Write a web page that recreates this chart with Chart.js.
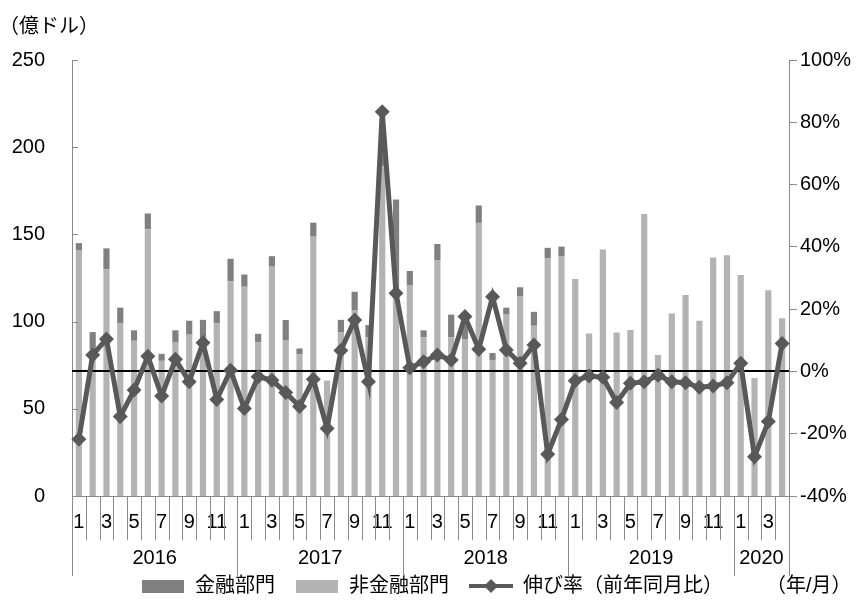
<!DOCTYPE html>
<html lang="ja">
<head>
<meta charset="utf-8">
<script src="https://cdn.jsdelivr.net/npm/chart.js@4.4.1/dist/chart.umd.min.js"></script>
<style>
    html, body { margin: 0; padding: 0; background: #fff; }
    #wrap { width: 864px; height: 606px; }
</style>
</head>
<body>
<div id="wrap"><canvas id="chart" width="864" height="606"></canvas></div>
<script>
/* ========================================
   対外直接投資（金融・非金融）と伸び率
   ======================================== */

const monthLabels = [
    1, 2, 3, 4, 5, 6, 7, 8, 9, 10, 11, 12,
    1, 2, 3, 4, 5, 6, 7, 8, 9, 10, 11, 12,
    1, 2, 3, 4, 5, 6, 7, 8, 9, 10, 11, 12,
    1, 2, 3, 4, 5, 6, 7, 8, 9, 10, 11, 12,
    1, 2, 3, 4
];
const yearLabels = ['2016', '2017', '2018', '2019', '2020'];
const yearMonthCounts = [12, 12, 12, 12, 4];

// 億ドル
const nonFinancial = [
    141, 84, 130, 99, 89, 153, 77.5, 88, 92.5, 90, 99, 123,
    120, 88, 131.5, 89.4, 81.3, 148.7, 65.6, 94, 106.6, 91, 189, 115,
    121, 91, 135, 91, 90, 156.6, 78, 104, 114.7, 97.6, 136.3, 137.6,
    124.4, 93.2, 141.4, 93.8, 95.2, 161.7, 80.8, 104.7, 115.2, 100.5, 136.7, 138,
    126.7, 67.6, 118, 101.9
];
const financial = [
    4, 10, 12, 9, 6, 9, 4, 7, 8, 11, 7, 13,
    7, 5, 6, 11.5, 3.3, 8, 0.5, 7, 10.5, 7, 12, 55,
    8, 4, 9.5, 13, 12, 10, 4, 4, 5, 8, 6, 5.4,
    0, 0, 0, 0, 0, 0, 0, 0, 0, 0, 0, 0,
    0, 0, 0, 0
];
// %
const growthRate = [
    -21.8, 5.3, 10.4, -14.5, -6, 4.9, -7.9, 3.9, -3.3, 9.2, -9, 0.4,
    -11.9, -1.7, -2.8, -6.8, -11.3, -2.5, -18.3, 6.7, 16.5, -3.3, 83.4, 25.1,
    1.2, 3.1, 5.3, 3.7, 17.6, 7.1, 24, 6.9, 2.6, 8.5, -26.6, -15.4,
    -3, -1.5, -1.9, -10, -3.8, -3.3, -1.2, -3.3, -3.6, -5.1, -4.7, -3.6,
    2.6, -27.4, -16.1, 9
];

const DARK = '#808080';
const LIGHT = '#b3b3b3';
const LINE = '#595959';
const AXIS = '#898989';
const FONT = "'Liberation Sans', 'Noto Sans CJK JP', sans-serif";

// legend icons
function boxIcon(color) {
    const c = document.createElement('canvas');
    c.width = 42; c.height = 13;
    const g = c.getContext('2d');
    g.fillStyle = color;
    g.fillRect(0, 0, 42, 13);
    return c;
}
function lineIcon() {
    const c = document.createElement('canvas');
    c.width = 44; c.height = 16;
    const g = c.getContext('2d');
    g.strokeStyle = LINE; g.lineWidth = 4;
    g.beginPath(); g.moveTo(0, 8); g.lineTo(44, 8); g.stroke();
    g.fillStyle = LINE;
    g.beginPath(); g.moveTo(22, 1); g.lineTo(29, 8); g.lineTo(22, 15); g.lineTo(15, 8); g.closePath(); g.fill();
    return c;
}
const legendIcons = [boxIcon(LIGHT), boxIcon(DARK), lineIcon()];
const legendRank = [1, 0, 2];

const decor = {
    id: 'decor',
    beforeDatasetDraw(chart, args) {
        if (args.index !== 2) return;
        const { ctx, chartArea } = chart;
        const y0 = Math.round(chart.scales.y1.getPixelForValue(0));
        ctx.save();
        ctx.strokeStyle = '#000';
        ctx.lineWidth = 2;
        ctx.beginPath();
        ctx.moveTo(chartArea.left, y0);
        ctx.lineTo(chartArea.right, y0);
        ctx.stroke();
        ctx.restore();
    },
    afterDraw(chart) {
        const { ctx, chartArea } = chart;
        const x = chart.scales.x;
        const y = chart.scales.y;
        const w = (x.right - x.left) / monthLabels.length;
        const top = chartArea.bottom;

        ctx.save();
        ctx.strokeStyle = AXIS;
        ctx.lineWidth = 1;

        // inner ticks on left axis
        y.ticks.forEach(t => {
            const py = Math.round(y.getPixelForValue(t.value)) + 0.5;
            ctx.beginPath();
            ctx.moveTo(chartArea.left, py);
            ctx.lineTo(chartArea.left + 6, py);
            ctx.stroke();
        });

        // month / year separators
        const yearEdges = [0];
        yearMonthCounts.forEach(n => yearEdges.push(yearEdges[yearEdges.length - 1] + n));
        for (let k = 0; k <= monthLabels.length; k++) {
            const px = Math.round(x.left + k * w) + 0.5;
            const long = yearEdges.includes(k);
            ctx.beginPath();
            ctx.moveTo(px, top);
            ctx.lineTo(px, top + (long ? 80 : 44));
            ctx.stroke();
        }

        // year labels
        ctx.fillStyle = '#000';
        ctx.font = '20px ' + FONT;
        ctx.textAlign = 'center';
        ctx.textBaseline = 'middle';
        yearLabels.forEach((yl, i) => {
            const cx = x.left + (yearEdges[i] + yearEdges[i + 1]) / 2 * w;
            ctx.fillText(yl, cx, top + 62);
        });

        // unit labels
        ctx.textAlign = 'left';
        ctx.fillText('（億ドル）', -1, 27);
        ctx.fillText('（年/月）', 766, 586);
        ctx.restore();
    }
};

const ctx = document.getElementById('chart');
new Chart(ctx, {
    data: {
        labels: monthLabels.map(String),
        datasets: [
            {
                type: 'bar',
                label: '非金融部門',
                data: nonFinancial,
                backgroundColor: LIGHT,
                yAxisID: 'y',
                stack: 'fdi',
                order: 1,
                barPercentage: 0.45,
                categoryPercentage: 1
            },
            {
                type: 'bar',
                label: '金融部門',
                data: financial,
                backgroundColor: DARK,
                yAxisID: 'y',
                stack: 'fdi',
                order: 1,
                barPercentage: 0.45,
                categoryPercentage: 1
            },
            {
                type: 'line',
                label: '伸び率（前年同月比）',
                data: growthRate,
                yAxisID: 'y1',
                order: 0,
                borderColor: LINE,
                borderWidth: 5,
                tension: 0,
                pointStyle: 'rectRot',
                pointRadius: 7.5,
                pointBackgroundColor: LINE,
                pointBorderWidth: 0
            }
        ]
    },
    options: {
        responsive: false,
        animation: false,
        devicePixelRatio: 1,
        layout: { padding: { top: 60, left: 0, right: 0, bottom: 0 } },
        plugins: {
            tooltip: { enabled: false },
            title: { display: false },
            legend: {
                position: 'bottom',
                labels: {
                    usePointStyle: true,
                    pointStyleWidth: 44,
                    padding: 20,
                    color: '#000',
                    font: { family: FONT, size: 20 },
                    sort: (a, b) => legendRank[a.datasetIndex] - legendRank[b.datasetIndex],
                    generateLabels(chart) {
                        const items = Chart.defaults.plugins.legend.labels.generateLabels(chart);
                        items.forEach(it => { it.pointStyle = legendIcons[it.datasetIndex]; });
                        return items;
                    }
                }
            }
        },
        scales: {
            x: {
                type: 'category',
                offset: true,
                grid: { display: false, drawTicks: false },
                border: { display: true, color: AXIS, width: 1 },
                ticks: {
                    autoSkip: false,
                    maxRotation: 0,
                    padding: 14,
                    color: '#000',
                    font: { family: FONT, size: 20 },
                    callback: (v, i) => (monthLabels[i] % 2 === 1 ? String(monthLabels[i]) : '')
                },
                afterFit(scale) { scale.height = 60; }
            },
            y: {
                position: 'left',
                min: 0,
                max: 250,
                stacked: true,
                grid: { display: false, drawTicks: false },
                border: { display: true, color: AXIS, width: 1 },
                ticks: {
                    stepSize: 50,
                    padding: 27,
                    color: '#000',
                    font: { family: FONT, size: 20 }
                },
                afterFit(scale) { scale.width = 72; }
            },
            y1: {
                position: 'right',
                min: -40,
                max: 100,
                grid: { drawOnChartArea: false, drawTicks: true, tickLength: 8, color: AXIS },
                border: { display: true, color: AXIS, width: 1 },
                ticks: {
                    stepSize: 20,
                    padding: 3,
                    color: '#000',
                    font: { family: FONT, size: 20 },
                    callback: v => v + '%'
                },
                afterFit(scale) { scale.width = 75; }
            }
        }
    },
    plugins: [decor]
});
</script>
</body>
</html>
